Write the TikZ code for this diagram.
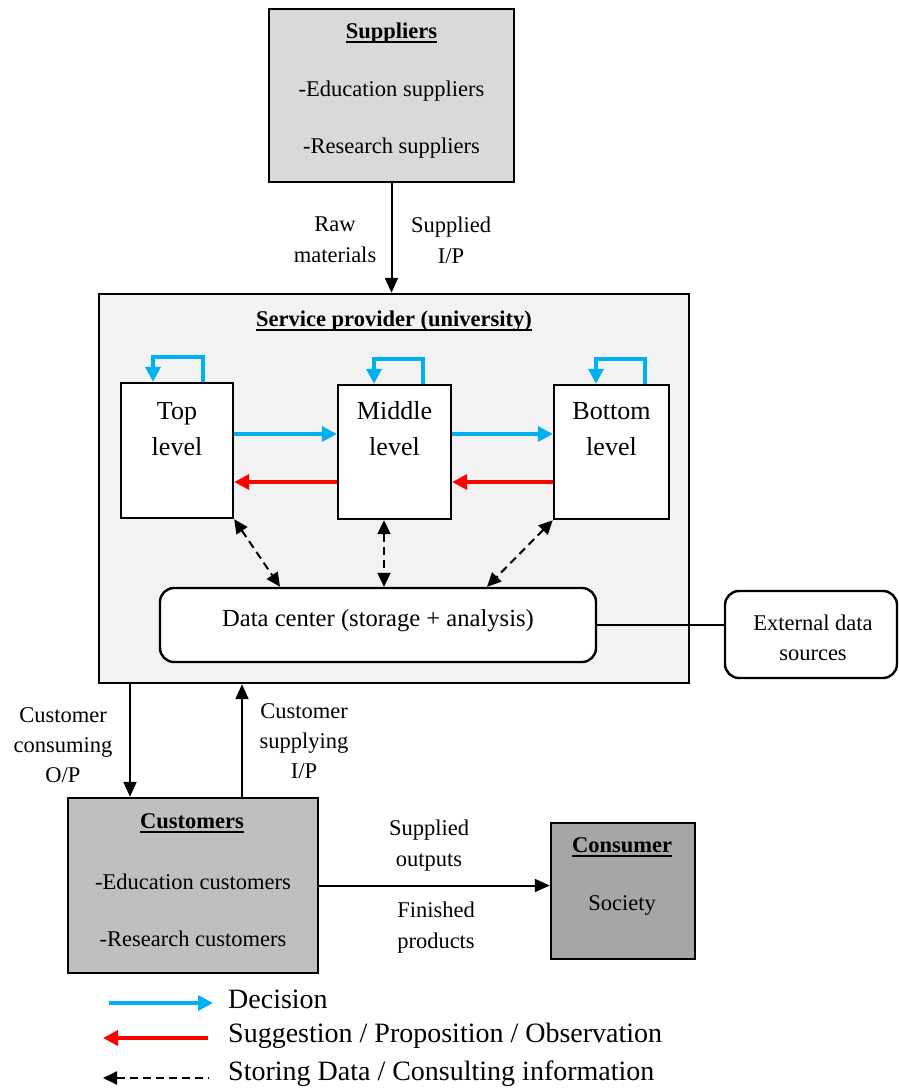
\documentclass[tikz,border=0pt]{standalone}
\usepackage{fontspec}
\setmainfont{Liberation Serif}
\usetikzlibrary{arrows.meta}

\definecolor{decblue}{HTML}{00B0F0}
\definecolor{sugred}{HTML}{FF0000}
\definecolor{supfill}{HTML}{D9D9D9}
\definecolor{svcfill}{HTML}{F2F2F2}
\definecolor{cusfill}{HTML}{BFBFBF}
\definecolor{confill}{HTML}{A6A6A6}

% bold title with a heavy underline
\newcommand{\titleul}[1]{\sbox0{\bfseries #1}\rlap{\rule[-4.5pt]{\wd0}{1.8pt}}\usebox0}

\begin{document}
\begin{tikzpicture}[x=1pt,y=-1pt,
  box/.style={draw, line width=2.4pt, inner sep=0pt},
  lvl/.style={box, fill=white, minimum width=113pt, minimum height=134pt},
  rbox/.style={box, fill=white, rounded corners=14pt},
  small/.style={font=\fontsize{22.5}{31}\selectfont, align=center, inner sep=0pt},
  body/.style={font=\fontsize{22.5}{57}\selectfont, align=center, inner sep=0pt},
  big/.style={font=\fontsize{26}{36}\selectfont, align=center, inner sep=0pt},
  legtxt/.style={font=\fontsize{28}{34}\selectfont, anchor=west, inner sep=0pt},
  flow/.style={line width=2pt, -{Triangle[length=15pt,width=13pt]}},
  dec/.style={decblue, line width=3.5pt, -{Triangle[length=15pt,width=15pt]}},
  sug/.style={sugred, line width=3.5pt, -{Triangle[length=15pt,width=15pt]}},
  store/.style={line width=2pt, dash pattern=on 8pt off 5pt,
    {Triangle[length=14pt,width=13pt]}-{Triangle[length=14pt,width=13pt]}},
  storeleg/.style={line width=2pt, dash pattern=on 8pt off 5pt,
    {Triangle[length=14pt,width=13pt]}-},
]
\useasboundingbox (0,0) rectangle (899,1090);

% ---------- suppliers ----------
\node[box, fill=supfill, minimum width=245pt, minimum height=173pt] (sup) at (391.5,95.5) {};
\node[small] (supT) at (391.5,33) {\titleul{Suppliers}};
\node[body] (supB) at (391.5,119.5) {-Education suppliers\\-Research suppliers};

% ---------- service provider ----------
\node[box, fill=svcfill, minimum width=590pt, minimum height=389pt] (svc) at (394,488.5) {};
\node[small] (svcT) at (394,321) {\titleul{Service provider (university)}};

\draw[flow] (sup.south) -- (sup.south |- svc.north);
\node[small] (raw) at (335,240) {Raw\\materials};
\node[small] (supIP) at (451,240) {Supplied\\I/P};

% management levels
\node[lvl, minimum width=112pt, minimum height=135pt] (top) at (177,450.5) {};
\node[lvl] (mid) at (394.5,452) {};
\node[lvl, minimum width=115pt] (bot) at (611.5,452) {};
\node[big] (topT) at (177,429) {Top\\level};
\node[big] (midT) at (394.5,429) {Middle\\level};
\node[big] (botT) at (611.5,429) {Bottom\\level};

% self decisions
\draw[dec] ([xshift=26pt]top.north) -- ++(0,-25) -| ([xshift=-24pt]top.north);
\draw[dec] ([xshift=28.5pt]mid.north) -- ++(0,-25) -| ([xshift=-20.5pt]mid.north);
\draw[dec] ([xshift=33.5pt]bot.north) -- ++(0,-25) -| ([xshift=-15.5pt]bot.north);

% decisions down, suggestions up
\draw[dec] (top.east |- 0,434) -- (mid.west |- 0,434);
\draw[dec] (mid.east |- 0,434) -- (bot.west |- 0,434);
\draw[sug] (mid.west |- 0,482) -- (top.east |- 0,482);
\draw[sug] (bot.west |- 0,482) -- (mid.east |- 0,482);

% data center
\node[rbox, minimum width=436pt, minimum height=74pt] (dc) at (378,625) {};
\node[inner sep=0pt, font=\fontsize{24.6}{30}\selectfont] (dcT) at (378,621) {Data center (storage + analysis)};

\draw[store] (top.south east) -- (280,0 |- dc.north);
\draw[store] (384,0 |- mid.south) -- (384,0 |- dc.north);
\draw[store] (bot.south west) -- (487,0 |- dc.north);

% external sources
\node[rbox, minimum width=172pt, minimum height=87pt] (ext) at (811,634.5) {};
\node[small, font=\fontsize{22.5}{30}\selectfont] (extT) at (813,638) {External data\\sources};
\draw[line width=2pt] (dc.east) -- (dc.east -| ext.west);

% ---------- customers ----------
\node[box, fill=cusfill, minimum width=250pt, minimum height=175pt] (cus) at (193,885.5) {};
\node[small] (cusT) at (192,823) {\titleul{Customers}};
\node[body] (cusB) at (193,910.5) {-Education customers\\-Research customers};

\draw[flow] (130,0 |- svc.south) -- (130,0 |- cus.north);
\draw[flow] (242,0 |- cus.north) -- (242,0 |- svc.south);
\node[small, font=\fontsize{22.5}{30}\selectfont] (cco) at (63,745) {Customer\\consuming\\O/P};
\node[small, font=\fontsize{22.5}{30}\selectfont] (csi) at (304,741) {Customer\\supplying\\I/P};

% ---------- consumer ----------
\node[box, fill=confill, minimum width=144pt, minimum height=136pt] (con) at (623,891) {};
\node[small] (conT) at (622,847) {\titleul{Consumer}};
\node[small] (conB) at (622,905) {Society};

\draw[flow] (cus.east) -- (cus.east -| con.west);
\node[small] (sout) at (429,846) {Supplied\\outputs};
\node[small] (fin) at (436,928) {Finished\\products};

% ---------- legend ----------
\coordinate (lgA) at (109,1003);
\coordinate (lgB) at (213,1003);
\coordinate (lgC) at (208,1038);
\coordinate (lgD) at (103,1038);
\coordinate (lgE) at (103,1078);
\coordinate (lgF) at (208,1078);
\draw[dec] (lgA) -- (lgB);
\draw[sug] (lgC) -- (lgD);
\draw[storeleg] (lgE) -- (lgF);
\node[legtxt] (lgDec) at (228,999) {Decision};
\node[legtxt] (lgSug) at (228,1036) {Suggestion / Proposition / Observation};
\node[legtxt] (lgSto) at (228,1074) {Storing Data / Consulting information};
\end{tikzpicture}
\end{document}
